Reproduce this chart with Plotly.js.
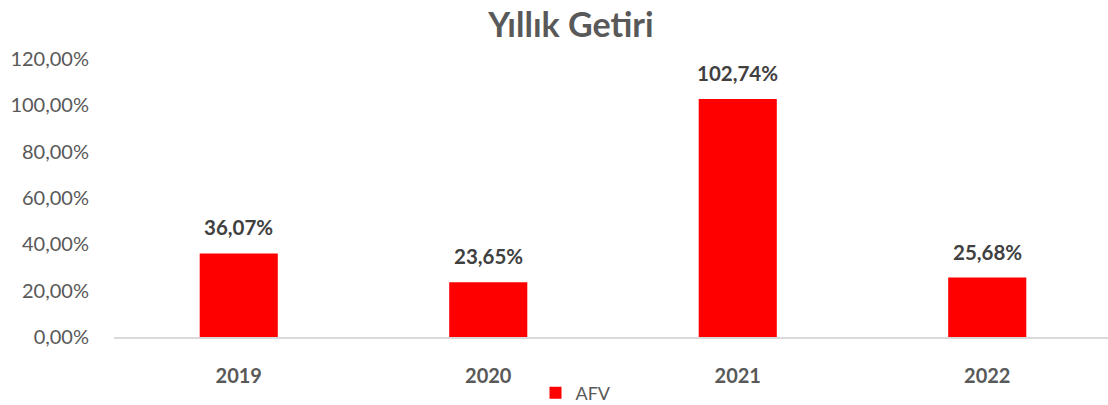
<!DOCTYPE html>
<html>
<head>
<meta charset="utf-8">
<script src="https://cdn.plot.ly/plotly-3.0.1.min.js"></script>
<style>html,body{margin:0;padding:0;background:#fff;}#chart{width:1108px;height:405px;}</style>
</head>
<body>
<div id="chart"></div>
<script>
const categories = ["2019", "2020", "2021", "2022"];
const values = [36.07, 23.65, 102.74, 25.68];
const labels = ["36,07%", "23,65%", "102,74%", "25,68%"];
const yTicks = [0, 20, 40, 60, 80, 100, 120];
const yTickText = ["0,00%", "20,00%", "40,00%", "60,00%", "80,00%", "100,00%", "120,00%"];
const seriesName = "AFV";

const FONT = "Lato, 'Open Sans', sans-serif";

const trace = {
  type: "bar",
  x: categories,
  y: values,
  name: seriesName,
  width: 0.313,
  marker: { color: "#ff0000" },
  hoverinfo: "skip"
};

const annotations = categories.map((c, i) => ({
  x: i, y: values[i], xref: "x", yref: "y",
  text: "<b>" + labels[i] + "</b>",
  showarrow: false, xanchor: "center", yanchor: "bottom", yshift: 12,
  font: { family: FONT, size: 20.5, color: "#404040" }
}));

const layout = {
  width: 1108, height: 405,
  margin: { l: 114, r: 0, t: 59, b: 68 },
  paper_bgcolor: "#fff", plot_bgcolor: "#fff",
  title: {
    text: "<b>Yıllık Getiri</b>",
    x: 571 / 1108, xref: "container", xanchor: "center",
    y: 1 - 25 / 405, yref: "container", yanchor: "middle",
    font: { family: FONT, size: 34, color: "#595959" }
  },
  xaxis: {
    type: "category",
    range: [-0.5, -0.5 + 994 / 249.5],
    showline: true, linecolor: "#d9d9d9", linewidth: 2,
    showgrid: false, zeroline: false,
    ticks: "outside", ticklen: 20, tickcolor: "rgba(0,0,0,0)",
    tickfont: { family: FONT, size: 20, color: "#595959", weight: "bold" },
    fixedrange: true
  },
  yaxis: {
    range: [0, 120],
    tickmode: "array",
    tickvals: yTicks,
    ticktext: yTickText,
    showgrid: false, zeroline: false, showline: false,
    ticks: "outside", ticklen: 20, tickcolor: "rgba(0,0,0,0)",
    tickfont: { family: FONT, size: 20, color: "#595959" },
    fixedrange: true
  },
  showlegend: true,
  legend: {
    orientation: "h",
    xref: "container", yref: "container",
    x: 576 / 1108, xanchor: "center",
    y: 12 / 405, yanchor: "middle",
    font: { family: FONT, size: 18, color: "#595959" }
  },
  annotations: annotations
};

Plotly.newPlot("chart", [trace], layout, { displayModeBar: false, staticPlot: true });
</script>
</body>
</html>
